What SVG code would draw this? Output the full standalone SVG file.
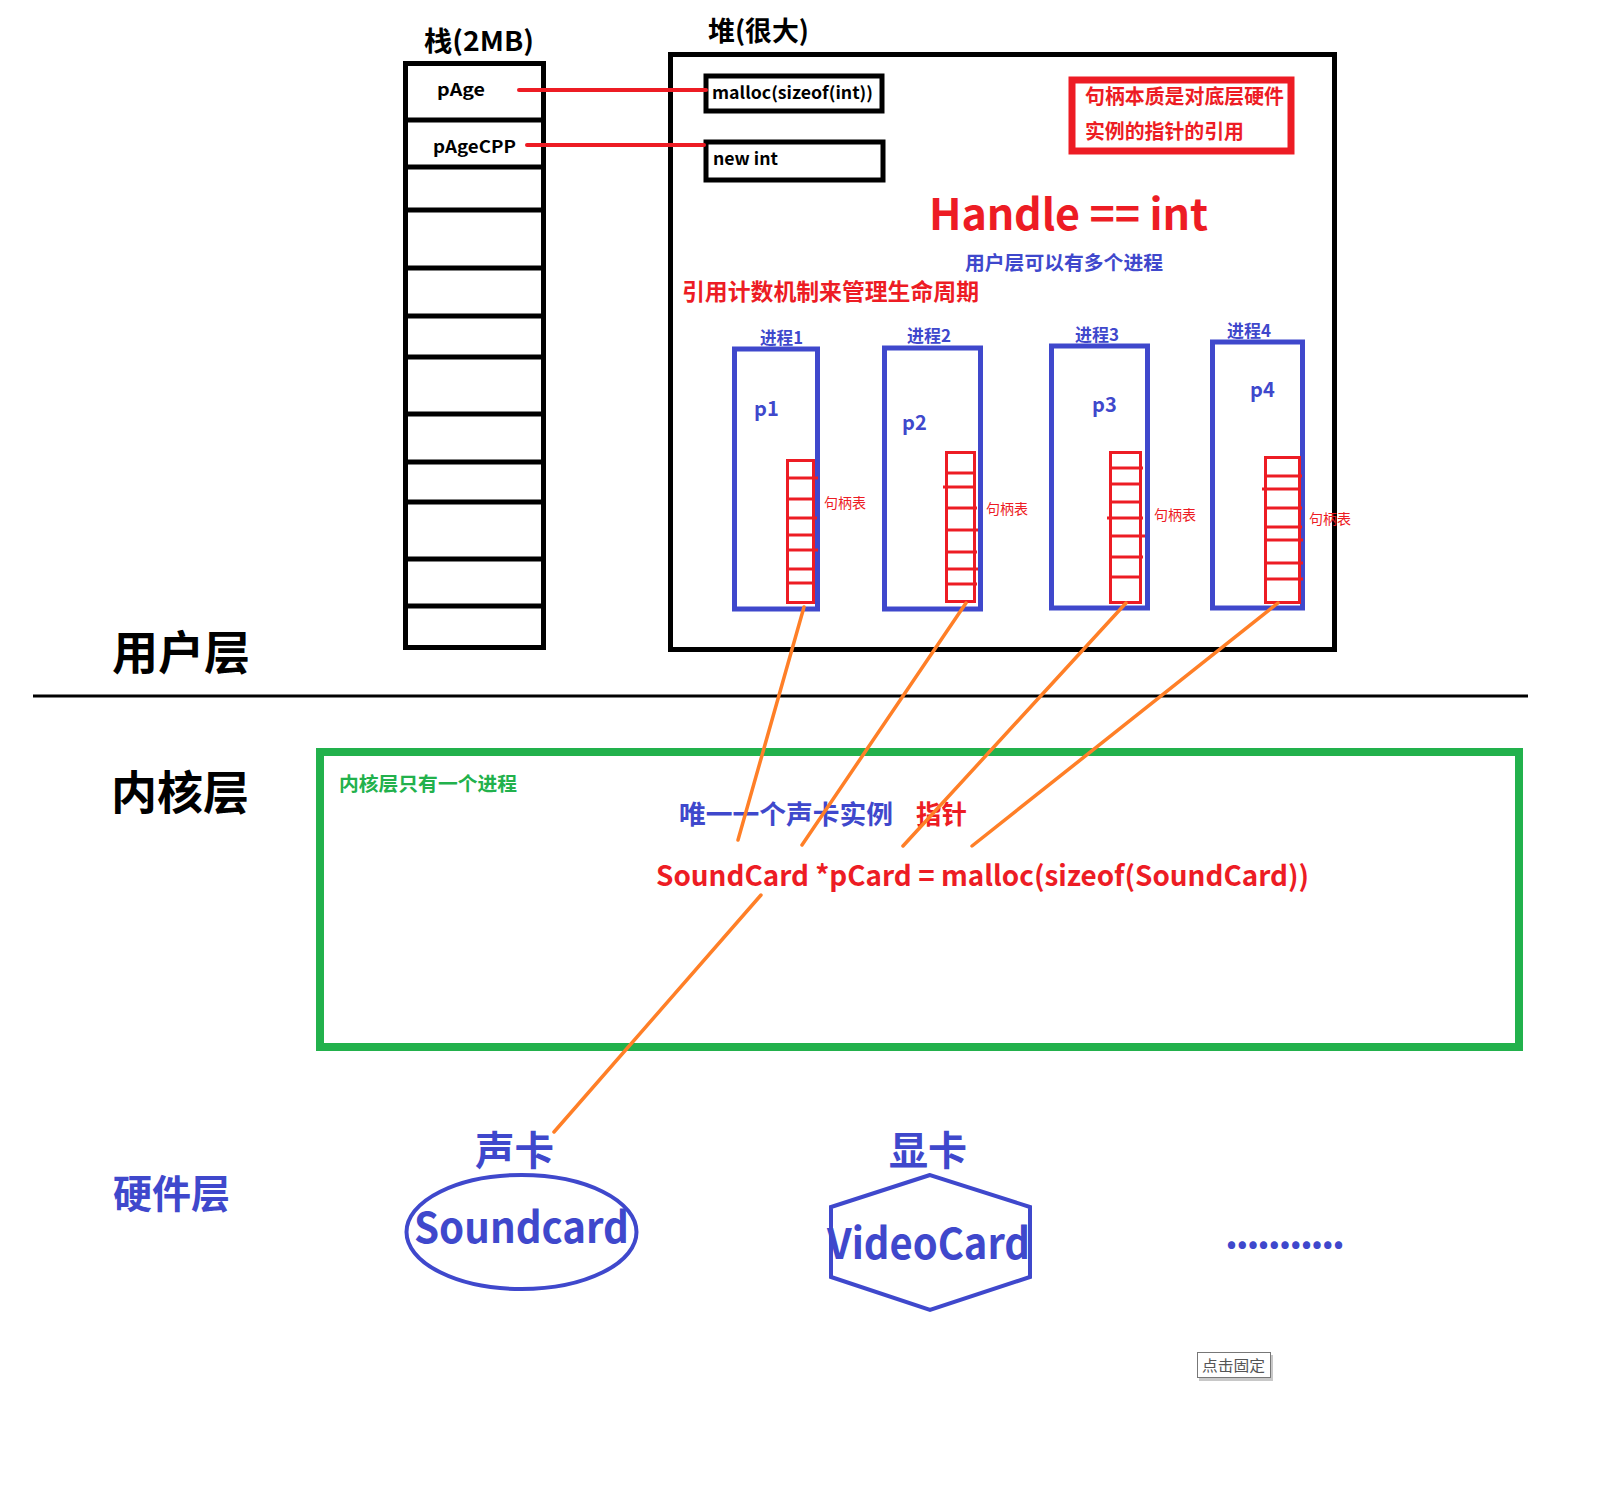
<svg xmlns="http://www.w3.org/2000/svg" width="1611" height="1488" viewBox="0 0 1611 1488">
<style>
text{font-family:"Noto Sans CJK SC","Noto Sans",sans-serif;font-weight:bold}
.blk{fill:none;stroke:#000;stroke-width:5}
.row{stroke:#000;stroke-width:5}
.blue{fill:#3f48cc}
.red{fill:#ed1c24}
.proc{fill:none;stroke:#3f48cc;stroke-width:5}
.tbl{fill:none;stroke:#ed1c24;stroke-width:3}
.tl{stroke:#ed1c24;stroke-width:3}
.hl{font-size:14px;font-weight:normal;fill:#ed1c24}
.pl{font-size:17px;fill:#3f48cc}
.pn{font-size:20px;fill:#3f48cc}
.conn{stroke:#ff7f27;stroke-width:3.5;fill:none;stroke-linecap:round}
.ptr{stroke:#ed1c24;stroke-width:4;fill:none;stroke-linecap:round}
</style>
<rect width="1611" height="1488" fill="#fff"/>

<g id="stack">
<text x="424" y="51" font-size="27" textLength="110" lengthAdjust="spacingAndGlyphs">栈(2MB)</text>
<rect class="blk" x="405.5" y="63.5" width="138" height="584"/>
<line class="row" x1="405" y1="120" x2="544" y2="120"/>
<line class="row" x1="405" y1="167" x2="544" y2="167"/>
<line class="row" x1="405" y1="210" x2="544" y2="210" stroke-width="7"/>
<line class="row" x1="405" y1="268" x2="544" y2="268"/>
<line class="row" x1="405" y1="316" x2="544" y2="316"/>
<line class="row" x1="405" y1="357" x2="544" y2="357" stroke-width="6"/>
<line class="row" x1="405" y1="414" x2="544" y2="414"/>
<line class="row" x1="405" y1="462" x2="544" y2="462"/>
<line class="row" x1="405" y1="502" x2="544" y2="502"/>
<line class="row" x1="405" y1="559" x2="544" y2="559"/>
<line class="row" x1="405" y1="606" x2="544" y2="606"/>
<text x="437" y="96" font-size="17" textLength="48" lengthAdjust="spacingAndGlyphs">pAge</text>
<text x="433" y="153" font-size="17" textLength="83" lengthAdjust="spacingAndGlyphs">pAgeCPP</text>
</g>

<g id="heap">
<text x="708" y="41" font-size="27" textLength="101" lengthAdjust="spacingAndGlyphs">堆(很大)</text>
<rect class="blk" x="670.5" y="54.5" width="664" height="595"/>
</g>

<g id="malloc-box">
<rect class="blk" x="706" y="76" width="176" height="35" stroke-width="4.5"/>
<text x="712" y="99" font-size="17" textLength="161" lengthAdjust="spacingAndGlyphs">malloc(sizeof(int))</text>
</g>
<g id="newint-box">
<rect class="blk" x="706" y="142" width="177" height="38" stroke-width="4.5"/>
<text x="713" y="165" font-size="17" textLength="65" lengthAdjust="spacingAndGlyphs">new int</text>
</g>

<g id="note-box">
<rect x="1072" y="80" width="219" height="71" fill="none" stroke="#ed1c24" stroke-width="7"/>
<text class="red" x="1085" y="104" font-size="20" textLength="199" lengthAdjust="spacingAndGlyphs">句柄本质是对底层硬件</text>
<text class="red" x="1085" y="139" font-size="20" textLength="159" lengthAdjust="spacingAndGlyphs">实例的指针的引用</text>
</g>

<g id="heap-labels">
<text class="red" x="929" y="230" font-size="43" textLength="279" lengthAdjust="spacing">Handle == int</text>
<text class="blue" x="965" y="270" font-size="19.5" textLength="198" lengthAdjust="spacingAndGlyphs">用户层可以有多个进程</text>
<text class="red" x="682" y="300" font-size="22.5" textLength="297" lengthAdjust="spacingAndGlyphs">引用计数机制来管理生命周期</text>
</g>

<g id="process1">
<text class="pl" x="760" y="344" textLength="43" lengthAdjust="spacingAndGlyphs">进程1</text>
<rect class="proc" x="734.5" y="349" width="83" height="260"/>
<text class="pn" x="754" y="416">p1</text>
<rect class="tbl" x="787.5" y="460.5" width="26" height="142"/>
<line class="tl" x1="787" y1="478" x2="818" y2="478"/>
<line class="tl" x1="787" y1="499" x2="815" y2="499"/>
<line class="tl" x1="787" y1="518" x2="817" y2="518"/>
<line class="tl" x1="787" y1="535" x2="815" y2="535"/>
<line class="tl" x1="787" y1="550" x2="818" y2="550"/>
<line class="tl" x1="787" y1="569" x2="815" y2="569"/>
<line class="tl" x1="787" y1="583" x2="815" y2="583"/>
<text class="hl" x="824" y="508">句柄表</text>
</g>

<g id="process2">
<text class="pl" x="907" y="342" textLength="44" lengthAdjust="spacingAndGlyphs">进程2</text>
<rect class="proc" x="884.5" y="348" width="96" height="261"/>
<text class="pn" x="902" y="430">p2</text>
<rect class="tbl" x="946.5" y="452.5" width="28" height="149"/>
<line class="tl" x1="946" y1="473" x2="975" y2="473"/>
<line class="tl" x1="943" y1="487" x2="975" y2="487"/>
<line class="tl" x1="946" y1="508" x2="977" y2="508"/>
<line class="tl" x1="946" y1="530" x2="978" y2="530"/>
<line class="tl" x1="946" y1="552" x2="977" y2="552"/>
<line class="tl" x1="946" y1="569" x2="978" y2="569"/>
<line class="tl" x1="946" y1="584" x2="977" y2="584"/>
<text class="hl" x="986" y="514">句柄表</text>
</g>

<g id="process3">
<text class="pl" x="1075" y="341" textLength="44" lengthAdjust="spacingAndGlyphs">进程3</text>
<rect class="proc" x="1051.5" y="346" width="96" height="262"/>
<text class="pn" x="1092" y="412">p3</text>
<rect class="tbl" x="1110.5" y="452.5" width="30" height="150"/>
<line class="tl" x1="1110" y1="468" x2="1143" y2="468"/>
<line class="tl" x1="1110" y1="484" x2="1141" y2="484"/>
<line class="tl" x1="1110" y1="502" x2="1141" y2="502"/>
<line class="tl" x1="1107" y1="518" x2="1143" y2="518"/>
<line class="tl" x1="1110" y1="536" x2="1145" y2="536"/>
<line class="tl" x1="1110" y1="557" x2="1143" y2="557"/>
<line class="tl" x1="1110" y1="577" x2="1141" y2="577"/>
<text class="hl" x="1154" y="520">句柄表</text>
</g>

<g id="process4">
<text class="pl" x="1227" y="337" textLength="44" lengthAdjust="spacingAndGlyphs">进程4</text>
<rect class="proc" x="1212.5" y="342" width="90" height="266"/>
<text class="pn" x="1250" y="397">p4</text>
<rect class="tbl" x="1265.5" y="457.5" width="34" height="145"/>
<line class="tl" x1="1265" y1="476" x2="1302" y2="476"/>
<line class="tl" x1="1262" y1="489" x2="1300" y2="489"/>
<line class="tl" x1="1265" y1="508" x2="1302" y2="508"/>
<line class="tl" x1="1265" y1="527" x2="1302" y2="527"/>
<line class="tl" x1="1265" y1="540" x2="1303" y2="540"/>
<line class="tl" x1="1265" y1="563" x2="1303" y2="563"/>
<line class="tl" x1="1265" y1="579" x2="1303" y2="579"/>
<text class="hl" x="1309" y="524">句柄表</text>
</g>

<g id="layers">
<text x="112" y="669" font-size="46">用户层</text>
<line x1="33" y1="696" x2="1528" y2="696" stroke="#000" stroke-width="3"/>
<text x="111" y="809" font-size="46">内核层</text>
<text class="blue" x="113" y="1208" font-size="39">硬件层</text>
</g>

<g id="kernel">
<rect x="320" y="752" width="1199" height="295" fill="none" stroke="#22b14c" stroke-width="8"/>
<text x="339" y="791" font-size="19.5" fill="#22b14c" textLength="178" lengthAdjust="spacingAndGlyphs">内核层只有一个进程</text>
<text class="blue" x="679" y="824" font-size="26.5" textLength="214" lengthAdjust="spacingAndGlyphs">唯一一个声卡实例</text>
<text class="red" x="916" y="824" font-size="26" textLength="51" lengthAdjust="spacingAndGlyphs">指针</text>
<text class="red" x="656" y="886" font-size="28" textLength="653" lengthAdjust="spacingAndGlyphs">SoundCard *pCard = malloc(sizeof(SoundCard))</text>
</g>

<g id="soundcard">
<text class="blue" x="475" y="1165" font-size="40" textLength="79" lengthAdjust="spacingAndGlyphs">声卡</text>
<ellipse cx="521.5" cy="1232" rx="115" ry="57" fill="none" stroke="#3f48cc" stroke-width="4"/>
<text class="blue" x="414" y="1243" font-size="42" textLength="215" lengthAdjust="spacingAndGlyphs">Soundcard</text>
</g>

<g id="videocard">
<text class="blue" x="889" y="1165" font-size="40" textLength="78" lengthAdjust="spacingAndGlyphs">显卡</text>
<polygon points="930,1175 831,1207 831,1277 930,1310 1030,1277 1030,1207" fill="none" stroke="#3f48cc" stroke-width="4"/>
<text class="blue" x="827" y="1259" font-size="42" textLength="203" lengthAdjust="spacingAndGlyphs">VideoCard</text>
</g>

<g id="more">
<text class="blue" x="1225" y="1248" font-size="40" textLength="120" lengthAdjust="spacing">...........</text>
</g>

<g id="pin-button">
<rect x="1199" y="1355" width="74" height="26" fill="#c8c8c8"/>
<rect x="1197.5" y="1352.5" width="73" height="25" fill="#fff" stroke="#777" stroke-width="1"/>
<text x="1202" y="1371" font-size="15" fill="#555" style="font-weight:normal" textLength="63" lengthAdjust="spacingAndGlyphs">点击固定</text>
</g>

<g id="connectors">
<line class="ptr" x1="519" y1="90" x2="706" y2="90"/>
<line class="ptr" x1="527" y1="145" x2="704" y2="145"/>
<line class="conn" x1="804" y1="607" x2="738" y2="840"/>
<line class="conn" x1="966" y1="603" x2="802" y2="845"/>
<line class="conn" x1="1126" y1="603" x2="903" y2="846"/>
<line class="conn" x1="1278" y1="603" x2="972" y2="846"/>
<line class="conn" x1="761" y1="895" x2="554" y2="1132"/>
</g>
</svg>
